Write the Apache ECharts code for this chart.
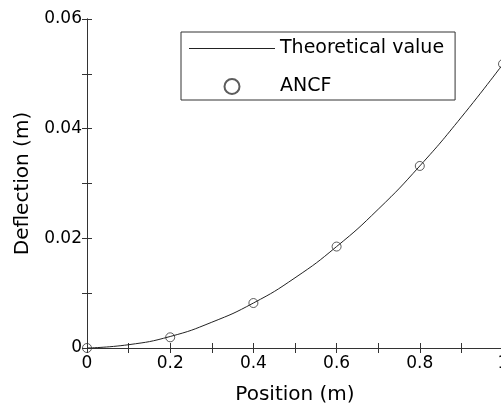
<!DOCTYPE html>
<html>
<head>
<meta charset="utf-8">
<script src="https://cdn.jsdelivr.net/npm/echarts@6/dist/echarts.min.js"></script>
<style>
  html, body { margin: 0; padding: 0; background: #fff; }
  #chart { width: 501px; height: 408px; }
</style>
</head>
<body>
<div id="chart"></div>
<script>
// 理论曲线
const theoryX = [0, 0.1, 0.2, 0.3, 0.4, 0.5, 0.6, 0.7, 0.8, 0.9, 1.0]
const theoryY = [0, 0.0006, 0.0021, 0.0047, 0.0082, 0.0128, 0.0185, 0.0253, 0.0332, 0.0421, 0.0518]
// ANCF 计算点
const ancfX = [0, 0.2, 0.4, 0.6, 0.8, 1.0]
const ancfY = [0, 0.00195, 0.0082, 0.0185, 0.0332, 0.0518]

const fontFamily = 'DejaVu Sans'
const frameColor = '#333'

const axisLine = { show: true, lineStyle: { color: frameColor, width: 1 } }
const tick = { show: true, inside: true, length: 5, lineStyle: { color: frameColor } }
const minorTick = { show: true, splitNumber: 2, length: 5, lineStyle: { color: frameColor } }

const chart = echarts.init(document.getElementById('chart'))

const option = {
  backgroundColor: '#fff',
  animation: false,
  textStyle: { fontFamily: fontFamily },
  // 不让 v6 把坐标系收进容器里，右边框要落在画面外
  grid: { left: 87, top: 19, width: 416, height: 329, outerBoundsMode: 'none' },
  legend: {
    orient: 'vertical',
    left: 181,
    top: 32,
    padding: [7, 11, 4, 8],
    itemWidth: 86,
    itemHeight: 15,
    itemGap: 19,
    borderColor: frameColor,
    borderWidth: 1,
    textStyle: { fontSize: 19, color: '#000', fontFamily: fontFamily },
    data: [
      // 细长矩形当作图例里的线
      { name: 'Theoretical value', icon: 'path://M0,0L86,0L86,1L0,1Z' },
      { name: 'ANCF', icon: 'circle' }
    ]
  },
  xAxis: [
    {
      type: 'value',
      min: 0,
      max: 1,
      interval: 0.2,
      name: 'Position (m)',
      nameLocation: 'middle',
      nameGap: 37,
      nameTextStyle: { fontSize: 20, color: '#000', fontFamily: fontFamily },
      axisLine: axisLine,
      axisTick: tick,
      minorTick: minorTick,
      splitLine: { show: false },
      axisLabel: {
        fontSize: 17,
        color: '#000',
        margin: 7,
        formatter: v => (v === 0 || v === 1 ? String(v) : v.toFixed(1))
      }
    },
    {
      type: 'value',
      position: 'top',
      min: 0,
      max: 1,
      interval: 0.2,
      axisLine: axisLine,
      axisTick: tick,
      minorTick: minorTick,
      splitLine: { show: false },
      axisLabel: { show: false }
    }
  ],
  yAxis: [
    {
      type: 'value',
      min: 0,
      max: 0.06,
      interval: 0.02,
      name: 'Deflection (m)',
      nameLocation: 'middle',
      nameGap: 54,
      nameTextStyle: { fontSize: 20, color: '#000', fontFamily: fontFamily },
      axisLine: axisLine,
      axisTick: tick,
      minorTick: minorTick,
      splitLine: { show: false },
      axisLabel: {
        fontSize: 17,
        color: '#000',
        margin: 5,
        formatter: v => (v === 0 ? '0' : v.toFixed(2))
      }
    },
    {
      type: 'value',
      position: 'right',
      min: 0,
      max: 0.06,
      interval: 0.02,
      axisLine: axisLine,
      axisTick: tick,
      minorTick: minorTick,
      splitLine: { show: false },
      axisLabel: { show: false }
    }
  ],
  series: [
    {
      name: 'Theoretical value',
      type: 'line',
      smooth: true,
      symbol: 'none',
      lineStyle: { color: '#222', width: 1 },
      itemStyle: { color: '#222' },
      data: theoryX.map((x, i) => [x, theoryY[i]]),
      z: 2
    },
    {
      name: 'ANCF',
      type: 'scatter',
      symbol: 'circle',
      symbolSize: 9,
      itemStyle: { color: 'rgba(255,255,255,0)', borderColor: '#333', borderWidth: 1 },
      data: ancfX.map((x, i) => [x, ancfY[i]]),
      z: 3
    }
  ]
}

chart.setOption(option)
</script>
</body>
</html>
